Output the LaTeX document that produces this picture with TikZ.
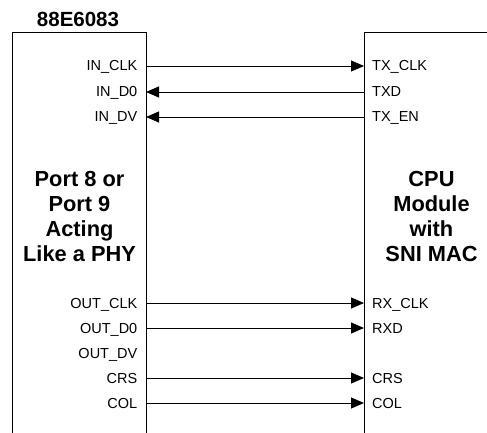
\documentclass[tikz,border=0pt]{standalone}
\usepackage{fontspec}
\setmainfont{Liberation Sans}
\usetikzlibrary{arrows.meta}
\tikzset{
  boxline/.style={line width=1pt, black},
  sig/.style={line width=0.9pt, black},
  tip/.style={-{Triangle[length=13pt,width=11pt]}},
  lab/.style={font=\fontsize{14.5}{17}\selectfont, inner sep=0pt},
  llab/.style={lab, anchor=base east},
  rlab/.style={lab, anchor=base west},
  big/.style={font=\fontsize{21.8}{25.3}\selectfont\bfseries, align=center, inner sep=0pt},
  ttl/.style={font=\fontsize{20.5}{24}\selectfont\bfseries, inner sep=0pt, anchor=base}
}
\begin{document}
\begin{tikzpicture}[x=1pt,y=1pt]
\useasboundingbox (0,0) rectangle (487,432);
% boxes (open at the bottom, right box continues past the right edge)
\draw[boxline] (12,-2) -- (12,399) -- (146,399) -- (146,-2);
\draw[boxline] (489,399) -- (364,399) -- (364,-2);
% title and inner texts
\node[ttl] (title) at (78,405) {88E6083};
\node[big] (port) at (79.5,215.5) {Port 8 or\\Port 9\\Acting\\Like a PHY};
\node[big] (cpu) at (431.5,215.5) {CPU\\Module\\with\\SNI MAC};
% pin coordinates
\foreach \n/\y in {1/366,2/340,3/315,4/129,5/104,6/79,7/54,8/29}{
  \coordinate (L\n) at (146,\y);
  \coordinate (R\n) at (364,\y);
}
% left labels
\node[llab] (inclk) at ([xshift=-8.5pt,yshift=-5pt]L1) {IN\_CLK};
\node[llab] (ind0) at ([xshift=-8.5pt,yshift=-5pt]L2) {IN\_D0};
\node[llab] (indv) at ([xshift=-8.5pt,yshift=-5pt]L3) {IN\_DV};
\node[llab] (outclk) at ([xshift=-8.5pt,yshift=-5pt]L4) {OUT\_CLK};
\node[llab] (outd0) at ([xshift=-8.5pt,yshift=-5pt]L5) {OUT\_D0};
\node[llab] (outdv) at ([xshift=-8.5pt,yshift=-5pt]L6) {OUT\_DV};
\node[llab] (crsl) at ([xshift=-8.5pt,yshift=-5pt]L7) {CRS};
\node[llab] (coll) at ([xshift=-8.5pt,yshift=-5pt]L8) {COL};
% right labels
\node[rlab] (txclk) at ([xshift=8pt,yshift=-5pt]R1) {TX\_CLK};
\node[rlab] (txd) at ([xshift=8pt,yshift=-5pt]R2) {TXD};
\node[rlab] (txen) at ([xshift=8pt,yshift=-5pt]R3) {TX\_EN};
\node[rlab] (rxclk) at ([xshift=8pt,yshift=-5pt]R4) {RX\_CLK};
\node[rlab] (rxd) at ([xshift=8pt,yshift=-5pt]R5) {RXD};
\node[rlab] (crsr) at ([xshift=8pt,yshift=-5pt]R7) {CRS};
\node[rlab] (colr) at ([xshift=8pt,yshift=-5pt]R8) {COL};
% signals
\draw[sig,tip] (L1) -- (R1);
\draw[sig,tip] (R2) -- (L2);
\draw[sig,tip] (R3) -- (L3);
\draw[sig,tip] (L4) -- (R4);
\draw[sig,tip] (L5) -- (R5);
\draw[sig,tip] (L7) -- (R7);
\draw[sig,tip] (L8) -- (R8);
\end{tikzpicture}
\end{document}
